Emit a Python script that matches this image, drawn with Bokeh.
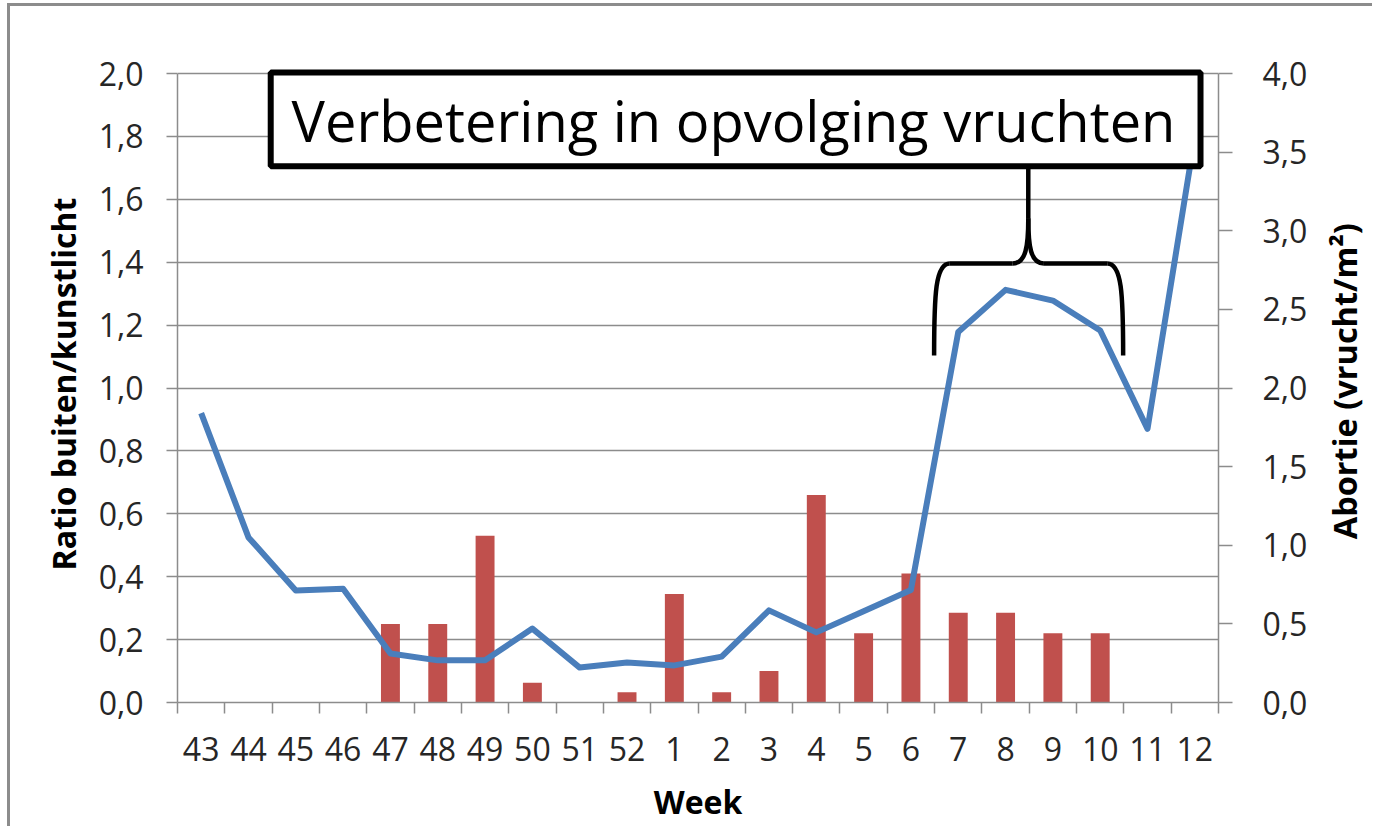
import json
import math
from bokeh.plotting import figure
from bokeh.layouts import row
from bokeh.models import (Range1d, LinearAxis, FixedTicker, CustomJSTickFormatter,
                          BoxAnnotation, Label)
from bokeh.core.properties import value
from bokeh.embed import file_html
from bokeh.resources import INLINE

# ---------------- data ----------------
weeks = ["43", "44", "45", "46", "47", "48", "49", "50", "51", "52",
         "1", "2", "3", "4", "5", "6", "7", "8", "9", "10", "11", "12"]
ratio = [0.92, 0.525, 0.356, 0.362, 0.156, 0.134, 0.134, 0.235, 0.111, 0.127,
         0.118, 0.146, 0.293, 0.223, 0.29, 0.358, 1.178, 1.312, 1.278, 1.183,
         0.870, 1.80]
abortie = [0, 0, 0, 0, 0.5, 0.5, 1.06, 0.125, 0, 0.065,
           0.69, 0.065, 0.2, 1.32, 0.44, 0.82, 0.57, 0.57, 0.44, 0.44, 0, 0]
left_ticks = [0.0, 0.2, 0.4, 0.6, 0.8, 1.0, 1.2, 1.4, 1.6, 1.8, 2.0]
right_ticks = [0.0, 0.5, 1.0, 1.5, 2.0, 2.5, 3.0, 3.5, 4.0]
annotation_text = "Verbetering in opvolging vruchten"
x_title = "Week"
y_title = "Ratio buiten/kunstlicht"
y2_title = "Abortie (vrucht/m\u00b2)"

n = len(weeks)
xc = [i + 0.5 for i in range(n)]

GRID = "#8c8c8c"
TICKTXT = "#262626"
FONT = "Open Sans"
H = 820

top_pad = 8 / 314.5
p = figure(width=1308, height=H, x_range=Range1d(0, n),
           y_range=Range1d(0, 2.0 + top_pad),
           output_backend="svg", toolbar_location=None,
           min_border_left=167, min_border_right=100,
           min_border_top=59, min_border_bottom=124)
p.outline_line_color = None
p.background_fill_color = "white"
p.border_fill_color = "white"
p.extra_y_ranges = {"ab": Range1d(0, 4.0 + 2 * top_pad)}

# x axis
xa = p.xaxis[0]
xa.ticker = FixedTicker(ticks=xc, minor_ticks=list(range(n + 1)))
xa.formatter = CustomJSTickFormatter(
    code="const w = %s; return w[Math.floor(tick)];" % json.dumps(weeks))
xa.major_tick_line_color = None
xa.major_tick_out = 11
xa.major_tick_in = 0
xa.minor_tick_out = 11
xa.minor_tick_in = 0
xa.minor_tick_line_color = GRID
xa.minor_tick_line_width = 1.5
xa.axis_line_color = GRID
xa.axis_line_width = 1.5
xa.major_label_text_font = FONT
xa.major_label_text_font_size = "32px"
xa.major_label_text_color = TICKTXT
xa.major_label_standoff = 23
xa.axis_label = x_title
xa.axis_label_text_font = FONT
xa.axis_label_text_font_style = "bold"
xa.axis_label_text_font_size = "32px"
xa.axis_label_text_color = "black"
xa.axis_label_standoff = 16

# left axis
ya = p.yaxis[0]
ya.ticker = FixedTicker(ticks=left_ticks)
ya.bounds = (0, 2.0)
ya.formatter = CustomJSTickFormatter(code="return tick.toFixed(1).replace('.', ',');")
ya.major_tick_out = 11
ya.major_tick_in = 0
ya.minor_tick_line_color = None
ya.major_tick_line_color = GRID
ya.major_tick_line_width = 1.5
ya.axis_line_color = GRID
ya.axis_line_width = 1.5
ya.major_label_text_font = FONT
ya.major_label_text_font_size = "32px"
ya.major_label_text_color = TICKTXT
ya.major_label_standoff = 23
ya.axis_label = y_title
ya.axis_label_text_font = FONT
ya.axis_label_text_font_style = "bold"
ya.axis_label_text_font_size = "32px"
ya.axis_label_text_color = "black"
ya.axis_label_standoff = 11

# right axis
ra = LinearAxis(y_range_name="ab", ticker=FixedTicker(ticks=right_ticks), bounds=(0, 4.0))
ra.formatter = CustomJSTickFormatter(code="return tick.toFixed(1).replace('.', ',');")
ra.major_tick_out = 14
ra.major_tick_in = 0
ra.minor_tick_line_color = None
ra.major_tick_line_color = GRID
ra.major_tick_line_width = 1.5
ra.axis_line_color = GRID
ra.axis_line_width = 1.5
ra.major_label_text_font = FONT
ra.major_label_text_font_size = "32px"
ra.major_label_text_color = TICKTXT
ra.major_label_standoff = 30
p.add_layout(ra, "right")

# grid
p.xgrid.visible = False
p.ygrid.ticker = FixedTicker(ticks=left_ticks)
p.ygrid.grid_line_color = GRID
p.ygrid.grid_line_width = 1.5

# bars (right axis) and line (left axis)
p.vbar(x=xc, top=abortie, width=0.4, y_range_name="ab",
       fill_color="#c0504d", line_color=None)
p.line(x=xc, y=ratio, line_color="#4a7ebb", line_width=6, line_join="round")

# brace (annotation, data coordinates)
bk = dict(line_color="black", line_width=4.5)
p.bezier(x0=[15.99], y0=[1.103], x1=[16.32], y1=[1.396],
         cx0=[15.99], cy0=[1.30], cx1=[16.02], cy1=[1.396], **bk)
p.segment(x0=[16.32], y0=[1.396], x1=[17.65], y1=[1.396], **bk)
p.bezier(x0=[17.65], y0=[1.396], x1=[17.98], y1=[1.54],
         cx0=[17.93], cy0=[1.396], cx1=[17.98], cy1=[1.45], **bk)
p.segment(x0=[17.98], y0=[1.54], x1=[17.98], y1=[1.70], **bk)
p.bezier(x0=[17.98], y0=[1.54], x1=[18.31], y1=[1.396],
         cx0=[17.98], cy0=[1.45], cx1=[18.03], cy1=[1.396], **bk)
p.segment(x0=[18.31], y0=[1.396], x1=[19.65], y1=[1.396], **bk)
p.bezier(x0=[19.65], y0=[1.396], x1=[19.985], y1=[1.103],
         cx0=[19.955], cy0=[1.396], cx1=[19.985], cy1=[1.30], **bk)

# annotation box with text
p.add_layout(BoxAnnotation(left=1.97, right=21.62, bottom=1.705, top=2.003,
                           fill_color="white", fill_alpha=1.0,
                           line_color="black", line_width=6, line_alpha=1.0))
p.add_layout(Label(x=11.75, y=1.853, text=annotation_text, text_align="center",
                   text_baseline="middle", text_font=FONT, text_font_size="56px",
                   text_color="black"))

# right-hand title strip (reads bottom-to-top)
W2 = 54
p2 = figure(width=W2, height=H, x_range=Range1d(0, W2), y_range=Range1d(0, H),
            output_backend="svg", toolbar_location=None, min_border=0,
            x_axis_location=None, y_axis_location=None)
p2.grid.visible = False
p2.outline_line_color = None
p2.border_fill_color = "white"
p2.text(x=[26], y=[H - 406.5], text=[y2_title], angle=math.pi / 2,
        text_align="center", text_baseline="middle", text_font=value(FONT),
        text_font_style="bold", text_font_size="32.5px", text_color="black")

layout = row(p, p2, spacing=0,
             styles={"border-left": "3px solid #8c8c8c", "border-top": "3px solid #8c8c8c",
                     "margin-left": "7px", "margin-top": "3px"})

open("out.html", "w").write(file_html(layout, INLINE))
